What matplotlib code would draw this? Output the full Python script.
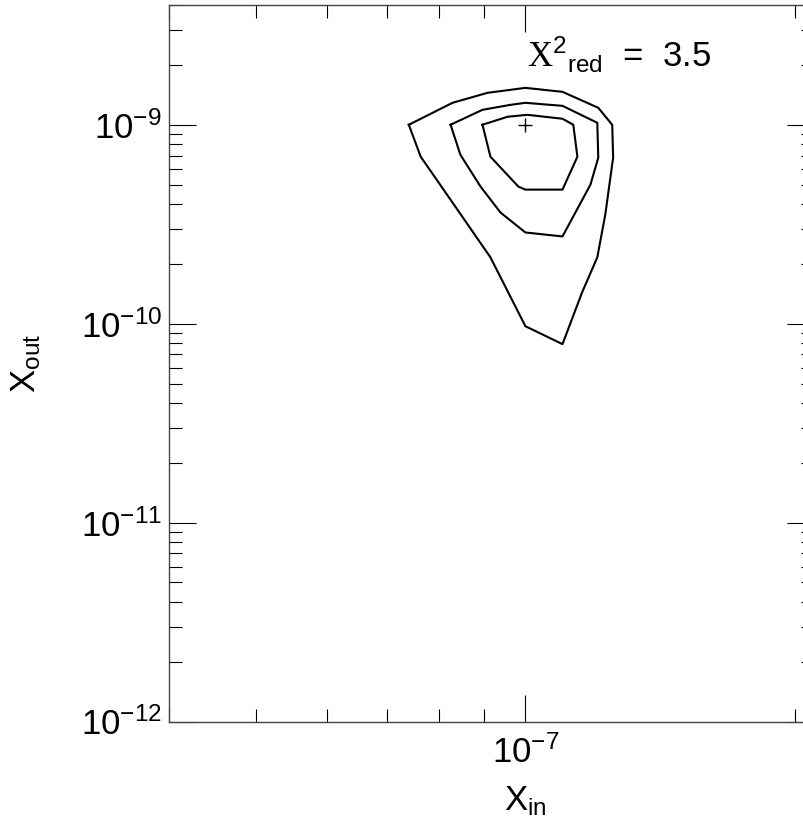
import matplotlib
matplotlib.use("Agg")
import matplotlib.pyplot as plt
from matplotlib.ticker import LogLocator, NullFormatter

plt.rcParams['font.family'] = ['Liberation Sans', 'DejaVu Sans']
plt.rcParams['mathtext.fontset'] = 'custom'
plt.rcParams['mathtext.rm'] = 'Liberation Serif'
plt.rcParams['mathtext.sf'] = 'Liberation Sans'
plt.rcParams['mathtext.default'] = 'regular'

# contornos (vertices)
outer_x = [7.41e-8, 8.29e-8, 9.07e-8, 1.0e-7, 1.10e-7, 1.206e-7, 1.25e-7, 1.253e-7,
           1.228e-7, 1.203e-7, 1.157e-7, 1.10e-7, 1.0e-7, 9.14e-8, 8.35e-8, 7.64e-8, 7.41e-8]
outer_y = [1.0e-9, 1.289e-9, 1.447e-9, 1.533e-9, 1.464e-9, 1.217e-9, 1.0e-9, 6.83e-10,
           3.54e-10, 2.155e-10, 1.438e-10, 7.89e-11, 9.71e-11, 2.155e-10, 3.88e-10, 6.91e-10, 1.0e-9]

mid_x = [8.25e-8, 8.955e-8, 9.62e-8, 1.0e-7, 1.10e-7, 1.203e-7, 1.206e-7, 1.182e-7,
         1.10e-7, 1.0e-7, 9.38e-8, 8.91e-8, 8.46e-8, 8.25e-8]
mid_y = [1.0e-9, 1.189e-9, 1.259e-9, 1.289e-9, 1.245e-9, 1.023e-9, 6.83e-10, 5.0e-10,
         2.745e-10, 2.874e-10, 3.62e-10, 4.89e-10, 7.07e-10, 1.0e-9]

inner_x = [8.955e-8, 9.55e-8, 1.005e-7, 1.10e-7, 1.131e-7, 1.143e-7, 1.10e-7, 1.0e-7,
           9.82e-8, 9.14e-8, 8.955e-8]
inner_y = [1.0e-9, 1.097e-9, 1.122e-9, 1.072e-9, 1.0e-9, 6.91e-10, 4.72e-10, 4.72e-10,
           4.89e-10, 6.91e-10, 1.0e-9]

best_x = [1.0e-7]
best_y = [1.0e-9]
chi2_red = 3.5

fig = plt.figure(figsize=(8.04, 8.21), dpi=100)
ax = fig.add_axes([169 / 804, 99.5 / 821, 645 / 804, 716.5 / 821])

for cx, cy in [(outer_x, outer_y), (mid_x, mid_y), (inner_x, inner_y)]:
    ax.plot(cx, cy, color='black', lw=1.5)
ax.plot(best_x, best_y, marker='+', color='black', ms=10, mew=1.0, ls='none')

ax.set_xscale('log')
ax.set_yscale('log')
ax.set_xlim(4e-8, 2.1e-7)
ax.set_ylim(1e-12, 4e-9)

for a in (ax.xaxis, ax.yaxis):
    a.set_minor_locator(LogLocator(base=10, subs=range(2, 10), numticks=20))
    a.set_minor_formatter(NullFormatter())

ax.tick_params(which='both', direction='in', top=True, right=True, width=0.8, color='black')
ax.tick_params(which='major', length=19.5, labelsize=25)
ax.tick_params(which='minor', length=9.7)
ax.tick_params(axis='x', which='major', pad=10)
ax.tick_params(axis='y', which='major', pad=5)
for s in ax.spines.values():
    s.set_linewidth(1.0)
    s.set_color('#444444')

ax.set_xlabel(r'X$_{\mathsf{in}}$', fontsize=25)
ax.set_ylabel(r'X$_{\mathsf{out}}$', fontsize=25)
ax.xaxis.set_label_coords((525 - 169) / 645, -0.088)
ax.yaxis.set_label_coords(-0.195, 0.5)

ax.text((527 - 169) / 645, (721.5 - 67) / 716.5,
        r'$\mathrm{X}^{2}{}_{\mathsf{red}}$  =  ' + str(chi2_red),
        transform=ax.transAxes, fontsize=25, va='baseline', ha='left')

plt.savefig('out.png', dpi=100)
